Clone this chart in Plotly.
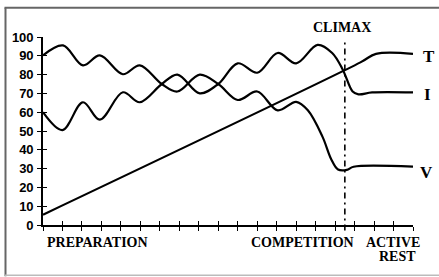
import plotly.graph_objects as go

# ---- data ----
x_ticks = list(range(0, 20))
y_ticks = [0, 10, 20, 30, 40, 50, 60, 70, 80, 90, 100]

t_x = [0, 16.3, 17.1, 19]
t_y = [5.5, 86.5, 91, 91]

i_x = [0, 1.0, 2.05, 2.92, 4.1, 4.97, 6.1, 6.9, 8.05, 9.0, 10.0, 11.0, 12.05, 13.0, 14.1, 14.85, 15.4, 15.9, 16.2, 16.9, 19]
i_y = [60, 50.5, 65.3, 56, 70.6, 65.3, 75, 80, 70, 75, 86, 81, 91.5, 86, 95.8, 91.5, 82.5, 71, 69.5, 70.5, 70.5]

v_x = [0, 1.03, 2.05, 2.92, 4.1, 4.97, 6.1, 6.9, 8.05, 9.0, 10.0, 11.0, 12.05, 13.0, 13.6, 14.35, 14.8, 15.15, 15.6, 15.95, 19]
v_y = [90.2, 95.5, 84.9, 90.2, 80.2, 84.9, 75, 71, 80, 75, 66.5, 71, 61, 65.5, 61, 47, 35, 29.5, 29.3, 31, 31]

climax_x = 15.5

series_labels = ["T", "I", "V"]

# ---- figure ----
fig = go.Figure()
line_style = dict(color="black", width=2.2, shape="spline", smoothing=1)
for xs, ys in [(t_x, t_y), (i_x, i_y), (v_x, v_y)]:
    fig.add_trace(go.Scatter(x=xs, y=ys, mode="lines", line=line_style,
                             showlegend=False, hoverinfo="skip"))

# invisible trace on overlay axes (for inside half of crossing ticks)
fig.add_trace(go.Scatter(x=[None], y=[None], xaxis="x2", yaxis="y2",
                         mode="lines", showlegend=False, hoverinfo="skip"))

tick_font = dict(family="Liberation Sans", size=13, color="black", weight=700)

PW, PH = 370.0, 189.0  # plot area size in px

fig.update_layout(
    width=439, height=277,
    margin=dict(l=43, r=26, t=36.5, b=51.5),
    paper_bgcolor="white", plot_bgcolor="white",
    xaxis=dict(range=[0, 19], tickvals=x_ticks, showticklabels=False,
               ticks="outside", ticklen=4, tickwidth=1.3, tickcolor="black",
               showline=True, linecolor="black", linewidth=1.6,
               showgrid=False, zeroline=False, fixedrange=True),
    yaxis=dict(range=[0, 100], tickvals=y_ticks, ticktext=["<b>%d</b>" % v for v in y_ticks],
               ticks="outside", ticklen=4, tickwidth=1.3, tickcolor="black",
               tickfont=tick_font, ticklabelstandoff=1,
               showline=True, linecolor="black", linewidth=1.6,
               showgrid=False, zeroline=False, fixedrange=True),
    xaxis2=dict(range=[0, 19], tickvals=x_ticks, showticklabels=False, overlaying="x",
                anchor="y2", ticks="inside", ticklen=4, tickwidth=1.3, tickcolor="black",
                showline=False, showgrid=False, zeroline=False, fixedrange=True),
    yaxis2=dict(range=[0, 100], tickvals=y_ticks, showticklabels=False, overlaying="y",
                anchor="x2", ticks="inside", ticklen=4, tickwidth=1.3, tickcolor="black",
                showline=False, showgrid=False, zeroline=False, fixedrange=True),
)

# climax dash-dot line
fig.add_shape(type="line", xref="x", yref="paper", x0=climax_x, x1=climax_x,
              y0=-0.029, y1=0.971, line=dict(color="black", width=1.6, dash="6px,4px,2px,4px"))

# frame (page pixels -> paper fractions)
def fx(px):
    return (px - 43) / PW

def fy(py):
    return (225.5 - py) / PH

fig.add_shape(type="line", xref="paper", yref="paper", x0=fx(4.5), x1=fx(439),
              y0=fy(7), y1=fy(7), line=dict(color="#666666", width=2))
fig.add_shape(type="line", xref="paper", yref="paper", x0=fx(5.5), x1=fx(5.5),
              y0=fy(7), y1=fy(277), line=dict(color="#666666", width=2))
fig.add_shape(type="line", xref="paper", yref="paper", x0=fx(5), x1=fx(439),
              y0=fy(276), y1=fy(276), line=dict(color="#bbbbbb", width=1.5))

serif = dict(family="Liberation Serif", size=14, color="black")
big_serif = dict(family="Liberation Serif", size=17, color="black")

def ann(text, px, py, font, xanchor="center"):
    fig.add_annotation(text="<b>" + text + "</b>", x=fx(px), y=fy(py),
                       xref="paper", yref="paper",
                       showarrow=False, font=font, xanchor=xanchor, yanchor="middle")

ann("PREPARATION", 45, 243, serif, "left")
ann("COMPETITION", 302, 243, serif)
ann("ACTIVE", 392.5, 243, serif)
ann("REST", 397.5, 257, serif)
ann("CLIMAX", 342, 27, serif)
ann(series_labels[0], 421, 56, big_serif, "left")
ann(series_labels[1], 422, 94, big_serif, "left")
ann(series_labels[2], 418, 173, big_serif, "left")

fig.write_html("out.html", config={"displayModeBar": False},
               post_script="document.body.style.margin='0';")
